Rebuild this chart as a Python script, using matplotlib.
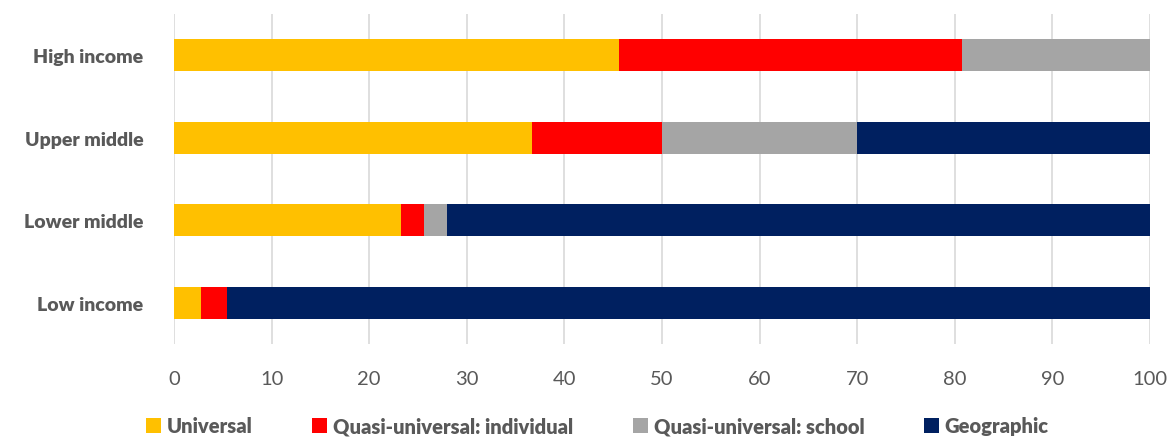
import matplotlib
matplotlib.use("Agg")
import matplotlib.pyplot as plt
import numpy as np

# Share of programmes by targeting type, per income group
categories = ["Low income", "Lower middle", "Upper middle", "High income"]
universal = [2.8, 23.3, 36.7, 45.6]
quasi_individual = [2.6, 2.3, 13.3, 35.1]
quasi_school = [0.0, 2.4, 20.0, 19.3]
geographic = [94.6, 72.0, 30.0, 0.0]

series_names = ["Universal", "Quasi-universal: individual",
                "Quasi-universal: school", "Geographic"]
series_colors = ["#FFC000", "#FF0000", "#A5A5A5", "#002060"]

plt.rcParams['font.family'] = ['Lato', 'DejaVu Sans']

fig = plt.figure(figsize=(11.71, 4.39), dpi=100)
ax = fig.add_axes([174 / 1171, 1 - 345 / 439, 976 / 1171, 330 / 439])

y = np.arange(len(categories))
left = np.zeros(len(categories))
for name, vals, col in zip(series_names,
                           [universal, quasi_individual, quasi_school, geographic],
                           series_colors):
    ax.barh(y, vals, left=left, height=0.39, color=col, label=name, zorder=3)
    left += np.array(vals)

ax.set_xlim(0, 100)
ax.set_ylim(-0.5, 3.5)
ax.set_xticks(np.arange(0, 101, 10))
ax.set_yticks(y)
ax.set_yticklabels(categories, fontsize=14, fontweight='heavy', color='#595959')
ax.tick_params(axis='x', labelsize=14.5, labelcolor='#595959', length=0, pad=19)
ax.tick_params(axis='y', length=0, pad=22)
ax.grid(axis='x', color='#D9D9D9', linewidth=1.2, zorder=0)
for s in ax.spines.values():
    s.set_visible(False)

leg = fig.legend(loc='lower center', bbox_to_anchor=(0.51, -0.035), ncol=4,
                 frameon=False, handlelength=0.75, handleheight=0.75,
                 handletextpad=0.3, columnspacing=2.95,
                 prop={'size': 14.5, 'weight': 'heavy'})
for t in leg.get_texts():
    t.set_color('#595959')

fig.savefig("out.png", dpi=100)
